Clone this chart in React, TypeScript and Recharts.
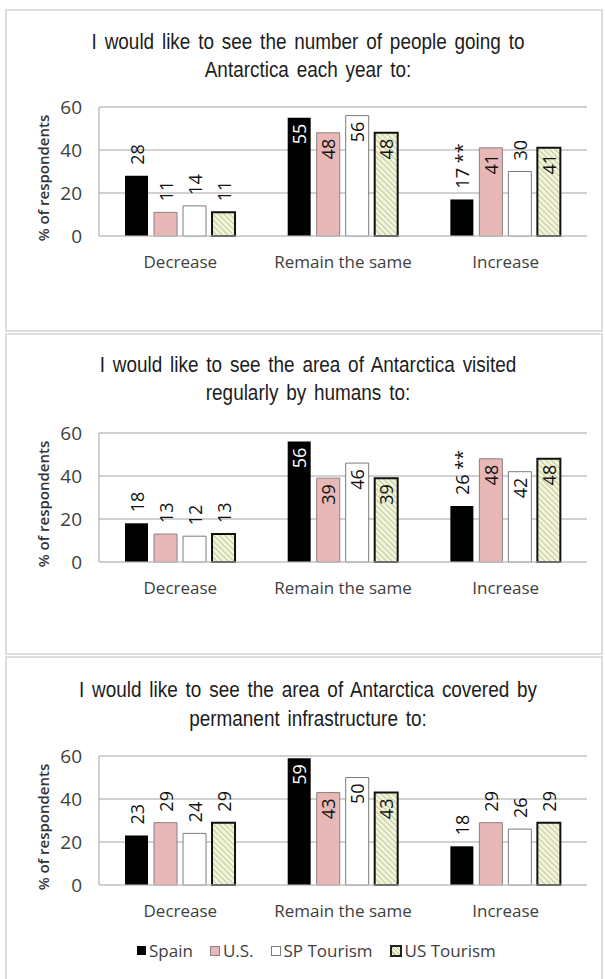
import React from 'react';
import { BarChart, Bar, XAxis, YAxis, CartesianGrid, LabelList, Legend } from 'recharts';

const categories = ['Decrease', 'Remain the same', 'Increase'];
const seriesNames = ['Spain', 'U.S.', 'SP Tourism', 'US Tourism'];
const yTicks = [0, 20, 40, 60];

// panel 1: number of people
const title1 = ['I would like to see the number of people going to', 'Antarctica each year to:'];
const p1Spain = [28, 55, 17];
const p1US = [11, 48, 41];
const p1SPTourism = [14, 56, 30];
const p1USTourism = [11, 48, 41];
const p1Notes = ['', '', '**'];

// panel 2: area visited
const title2 = ['I would like to see the area of Antarctica visited', 'regularly by humans to:'];
const p2Spain = [18, 56, 26];
const p2US = [13, 39, 48];
const p2SPTourism = [12, 46, 42];
const p2USTourism = [13, 39, 48];
const p2Notes = ['', '', '**'];

// panel 3: infrastructure
const title3 = ['I would like to see the area of Antarctica covered by', 'permanent infrastructure to:'];
const p3Spain = [23, 59, 18];
const p3US = [29, 43, 29];
const p3SPTourism = [24, 50, 26];
const p3USTourism = [29, 43, 29];
const p3Notes = ['', '', ''];

const FONT = "'Open Sans', sans-serif";
const TITLE_FONT = "'Liberation Sans', Arial, sans-serif";
const PINK = '#e8b7b7';
const PINK_EDGE = '#8f7f7f';
const WHITE_EDGE = '#7c7c7c';

const makeLabel = (notes: string[] | null, onDark: boolean) => (props: any) => {
    const vb = props.viewBox || {};
    const x = Number(props.x ?? vb.x);
    const y = Number(props.y ?? vb.y);
    const w = Number(props.width ?? vb.width);
    const v = Number(props.value);
    const idx = props.index;
    const cx = x + w / 2;
    const inside = v >= 35;
    const ay = inside ? y + 6 : y - 11;
    const note = notes && notes[idx] ? ' ' + notes[idx] : '';
    return (
        <text
            x={cx}
            y={ay}
            transform={`rotate(-90 ${cx} ${ay})`}
            textAnchor={inside ? 'end' : 'start'}
            dominantBaseline="central"
            fontSize={18}
            fontFamily={FONT}
            fill={inside && onDark ? '#fff' : '#111'}
        >
            {v + note}
        </text>
    );
};

const swatches: React.CSSProperties[] = [
    { width: 9, height: 9, background: '#000' },
    { width: 8, height: 8, background: PINK, border: `1px solid ${PINK_EDGE}` },
    { width: 8, height: 8, background: '#fff', border: `1px solid ${WHITE_EDGE}` },
    {
        width: 8,
        height: 8,
        border: '2px solid #222',
        background: 'repeating-linear-gradient(45deg, #f1f3da 0px, #f1f3da 2px, #b9bf8c 2px, #b9bf8c 3px)',
    },
];

// legend keeps series order (recharts sorts payload by name otherwise)
const renderLegend = () => (
    <div style={{ height: 40, boxSizing: 'border-box', paddingTop: 11, paddingLeft: 137, display: 'flex', alignItems: 'center', fontFamily: FONT, fontSize: 17, color: '#404040', lineHeight: '19px' }}>
        {seriesNames.map((name, i) => (
            <span key={name} style={{ display: 'flex', alignItems: 'center', marginRight: 17 }}>
                <span style={{ display: 'inline-block', marginRight: 3, ...swatches[i] }} />
                <span>{name}</span>
            </span>
        ))}
    </div>
);

interface PanelProps {
    id: string;
    title: string[];
    spain: number[];
    us: number[];
    spTourism: number[];
    usTourism: number[];
    notes: string[];
    boxTop: number;
    boxHeight: number;
    titleCenter: number;
    lineGap: number;
    plotTop: number;
    legend?: boolean;
}

const Panel: React.FC<PanelProps> = ({ id, title, spain, us, spTourism, usTourism, notes, boxTop, boxHeight, titleCenter, lineGap, plotTop, legend }) => {
    const data = categories.map((c, i) => ({
        category: c,
        spain: spain[i],
        us: us[i],
        spTourism: spTourism[i],
        usTourism: usTourism[i],
    }));
    const plotH = 129;
    const topPad = 20;
    const chartTop = plotTop - topPad;
    const chartH = topPad + plotH + 40 + (legend ? 40 : 0);

    return (
        <>
            <div style={{ position: 'absolute', left: 5, top: boxTop, width: 598, height: boxHeight, border: '2px solid #dedede', boxSizing: 'border-box' }} />
            {title.map((line, i) => (
                <div
                    key={i}
                    style={{
                        position: 'absolute',
                        left: 0,
                        width: 616,
                        top: titleCenter + i * lineGap - 14,
                        height: 28,
                        lineHeight: '28px',
                        textAlign: 'center',
                        fontFamily: TITLE_FONT,
                        fontSize: 22,
                        wordSpacing: 3,
                        color: '#1c1c1c',
                        whiteSpace: 'nowrap',
                        transform: 'scaleX(0.86)',
                    }}
                >
                    {line}
                </div>
            ))}
            <div
                style={{
                    position: 'absolute',
                    left: 43,
                    top: plotTop + plotH / 2 + 6,
                    transform: 'translate(-50%, -50%) rotate(-90deg)',
                    fontFamily: FONT,
                    fontWeight: 600,
                    fontSize: 15,
                    color: '#333',
                    whiteSpace: 'nowrap',
                }}
            >
                % of respondents
            </div>
            <div style={{ position: 'absolute', left: 0, top: chartTop }}>
                <BarChart
                    width={605}
                    height={chartH}
                    data={data}
                    margin={{ top: topPad, right: 18, left: 39, bottom: 0 }}
                    barCategoryGap="16%"
                    barGap={6}
                    style={{ fontFamily: FONT }}
                >
                    <defs>
                        <pattern id={`hatch-${id}`} patternUnits="userSpaceOnUse" width="4" height="4" patternTransform="rotate(-45)">
                            <rect width="4" height="4" fill="#f1f3da" />
                            <line x1="0" y1="0" x2="0" y2="4" stroke="#b9bf8c" strokeWidth="1.6" />
                        </pattern>
                    </defs>
                    <CartesianGrid vertical={false} stroke="#a3a3a3" />
                    <XAxis
                        dataKey="category"
                        tickLine={false}
                        tickSize={0}
                        tickMargin={20}
                        axisLine={{ stroke: '#cfcfcf' }}
                        height={40}
                        interval={0}
                        tick={{ fontSize: 17, fill: '#404040', fontFamily: FONT }}
                    />
                    <YAxis
                        domain={[0, 60]}
                        ticks={yTicks}
                        width={60}
                        tickLine={false}
                        tickSize={0}
                        tickMargin={17}
                        axisLine={{ stroke: '#a3a3a3' }}
                        tick={{ fontSize: 19, fill: '#404040', fontFamily: FONT }}
                    />
                    <YAxis yAxisId="frame" orientation="right" width={0} tick={false} tickLine={false} axisLine={{ stroke: '#808080' }} />
                    <Bar dataKey="spain" name={seriesNames[0]} fill="#000" isAnimationActive={false}>
                        <LabelList dataKey="spain" content={makeLabel(notes, true)} />
                    </Bar>
                    <Bar dataKey="us" name={seriesNames[1]} fill={PINK} stroke={PINK_EDGE} strokeWidth={1} isAnimationActive={false}>
                        <LabelList dataKey="us" content={makeLabel(null, false)} />
                    </Bar>
                    <Bar dataKey="spTourism" name={seriesNames[2]} fill="#fff" stroke={WHITE_EDGE} strokeWidth={1} isAnimationActive={false}>
                        <LabelList dataKey="spTourism" content={makeLabel(null, false)} />
                    </Bar>
                    <Bar dataKey="usTourism" name={seriesNames[3]} fill={`url(#hatch-${id})`} stroke="#111" strokeWidth={2} isAnimationActive={false}>
                        <LabelList dataKey="usTourism" content={makeLabel(null, false)} />
                    </Bar>
                    {legend && <Legend verticalAlign="bottom" height={40} wrapperStyle={{ left: 0, width: 605 }} content={renderLegend} />}
                </BarChart>
            </div>
        </>
    );
};

export default function App() {
    return (
        <div style={{ position: 'absolute', left: 0, top: 0, width: 605, height: 979, background: '#fff', overflow: 'hidden' }}>
            <Panel id="p1" title={title1} spain={p1Spain} us={p1US} spTourism={p1SPTourism} usTourism={p1USTourism} notes={p1Notes}
                boxTop={9} boxHeight={323} titleCenter={42} lineGap={28} plotTop={107} />
            <Panel id="p2" title={title2} spain={p2Spain} us={p2US} spTourism={p2SPTourism} usTourism={p2USTourism} notes={p2Notes}
                boxTop={333} boxHeight={322} titleCenter={365} lineGap={28} plotTop={433} />
            <Panel id="p3" title={title3} spain={p3Spain} us={p3US} spTourism={p3SPTourism} usTourism={p3USTourism} notes={p3Notes}
                boxTop={656} boxHeight={330} titleCenter={690} lineGap={29} plotTop={756} legend />
        </div>
    );
}
